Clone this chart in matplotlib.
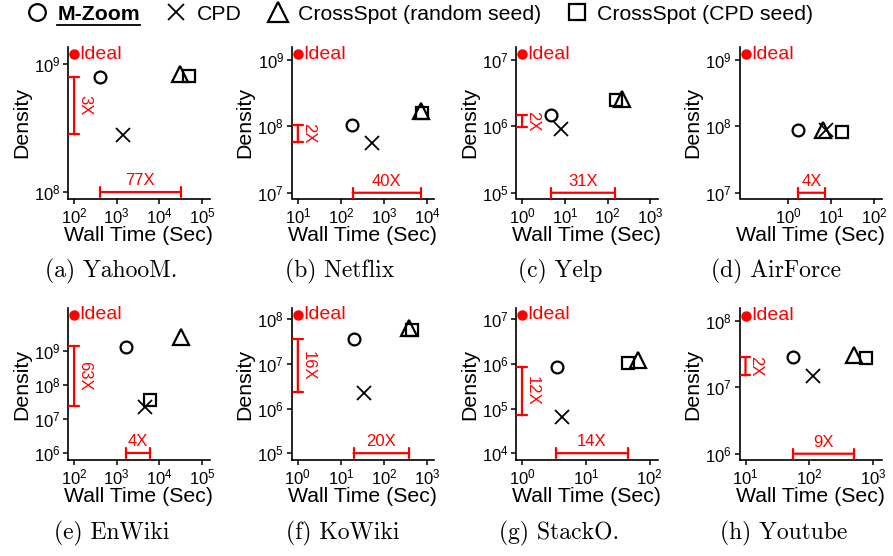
import numpy as np
import matplotlib
matplotlib.use("Agg")
import matplotlib.pyplot as plt
from matplotlib.lines import Line2D

plt.rcParams['font.family'] = ['Liberation Sans', 'DejaVu Sans']
plt.rcParams['mathtext.default'] = 'regular'

# ---- data ----
captions = ['(a) YahooM.', '(b) Netflix', '(c) Yelp', '(d) AirForce',
            '(e) EnWiki', '(f) KoWiki', '(g) StackO.', '(h) Youtube']

# wall time (sec) and density for each method
mzoom_t = [405, 180, 4.7, 1.7, 1640, 19.6, 3.5, 55]
mzoom_d = [8.0e8, 1.03e8, 1.45e6, 8.9e7, 1.34e9, 3.6e7, 8.4e5, 2.8e7]
cpd_t = [1390, 525, 8.1, 7.5, 4730, 33.6, 4.2, 114]
cpd_d = [2.8e8, 5.5e7, 9.2e5, 8.7e7, 2.2e7, 2.2e6, 6.6e4, 1.45e7]
csr_t = [31000, 7200, 211, 6.6, 32800, 373, 65.6, 500]
csr_d = [8.4e8, 1.7e8, 2.6e6, 8.7e7, 2.6e9, 6.5e7, 1.23e6, 3.06e7]
csc_t = [51000, 7500, 153, 17.7, 5970, 448, 45.8, 785]
csc_d = [8.1e8, 1.6e8, 2.45e6, 8.1e7, 3.7e7, 5.6e7, 1.07e6, 2.7e7]

ideal_t = [100, 10, 1, 0.1, 100, 1, 1, 10]
ideal_d = [1.2e9, 1.2e9, 1.2e7, 1.2e9, 1.15e10, 1.25e8, 1.25e7, 1.19e8]

# density gap brackets (None = no bracket)
vgap = [(8.0e8, 2.83e8), (1.05e8, 5.7e7), (1.45e6, 9.7e5), None,
        (1.4e9, 2.4e7), (3.6e7, 2.3e6), (8.4e5, 7.0e4), (2.8e7, 1.5e7)]
vgap_lbl = ['3X', '2X', '2X', '', '63X', '16X', '12X', '2X']
# speed gap brackets
hgap = [(407, 32000), (186, 6980), (4.7, 147), (1.66, 7.2),
        (1640, 6000), (19.6, 386), (3.4, 46), (55, 500)]
hgap_y = [1e8, 1e7, 1e5, 1e7, 1e6, 1e5, 1e4, 1e6]
hgap_lbl = ['77X', '40X', '31X', '4X', '4X', '20X', '14X', '9X']

# axis setup
xlims = [(72, 1.55e5), (7.2, 1.41e4), (0.72, 1500), (0.0716, 151),
         (72, 1.55e5), (0.72, 1425), (0.805, 135), (8.05, 1350)]
ylims = [(8.9e7, 1.37e9), (8.2e6, 1.55e9), (8.2e4, 1.55e7), (8.2e6, 1.55e9),
         (6.3e5, 1.78e10), (7.1e4, 1.76e8), (7.1e3, 1.76e7), (8.1e5, 1.53e8)]
xticks = [[1e2, 1e3, 1e4, 1e5], [1e1, 1e2, 1e3, 1e4], [1e0, 1e1, 1e2, 1e3],
          [1e0, 1e1, 1e2], [1e2, 1e3, 1e4, 1e5], [1e0, 1e1, 1e2, 1e3],
          [1e0, 1e1, 1e2], [1e1, 1e2, 1e3]]
yticks = [[1e8, 1e9], [1e7, 1e8, 1e9], [1e5, 1e6, 1e7], [1e7, 1e8, 1e9],
          [1e6, 1e7, 1e8, 1e9], [1e5, 1e6, 1e7, 1e8], [1e4, 1e5, 1e6, 1e7],
          [1e6, 1e7, 1e8]]

W, H = 893, 556
fig = plt.figure(figsize=(W / 100, H / 100), dpi=100)

col_left = [68, 291.7, 516, 739.5]
col_w = 142
row_top = [47, 308.3]
row_h = 151.5
cap_x = [111, 340, 560, 776, 112, 343, 559, 784]
cap_y = [271, 533]

RED = '#ff0000'
ms_kw = dict(linestyle='none', mfc='none', mec='black', mew=1.6, clip_on=False)

for i in range(8):
    r, c = divmod(i, 4)
    ax = fig.add_axes([col_left[c] / W, 1 - (row_top[r] + row_h) / H,
                       col_w / W, row_h / H])
    ax.set_xscale('log')
    ax.set_yscale('log')

    ax.plot(mzoom_t[i], mzoom_d[i], marker='o', ms=8.5, **ms_kw)
    ax.plot(cpd_t[i], cpd_d[i], marker='x', ms=9.5, color='black',
            **{**ms_kw, 'mew': 1.3})
    ax.plot(csr_t[i], csr_d[i], marker='^', ms=11, **ms_kw)
    ax.plot(csc_t[i], csc_d[i], marker='s', ms=9, **ms_kw)

    ax.plot(ideal_t[i], ideal_d[i], 'o', color=RED, ms=6.5, clip_on=False)
    ax.annotate('Ideal', (ideal_t[i], ideal_d[i]), xytext=(4, 0),
                textcoords='offset points', ha='left', va='center',
                color=RED, fontsize=14)

    arrow = dict(arrowstyle='|-|, widthA=0.35, widthB=0.35',
                 color=RED, lw=1.6, shrinkA=0, shrinkB=0, mutation_scale=10)
    if vgap[i] is not None:
        y1, y2 = vgap[i]
        ax.annotate('', xy=(ideal_t[i], y2), xytext=(ideal_t[i], y1),
                    arrowprops=arrow)
        ax.annotate(vgap_lbl[i], (ideal_t[i], np.sqrt(y1 * y2)), xytext=(2, 0),
                    textcoords='offset points', rotation=270, ha='left',
                    va='center', color=RED, fontsize=12)
    x1, x2 = hgap[i]
    ax.annotate('', xy=(x2, hgap_y[i]), xytext=(x1, hgap_y[i]), arrowprops=arrow)
    ax.annotate(hgap_lbl[i], (np.sqrt(x1 * x2), hgap_y[i]), xytext=(0, 3),
                textcoords='offset points', ha='center', va='bottom',
                color=RED, fontsize=12)

    ax.set_xlim(*xlims[i])
    ax.set_ylim(*ylims[i])
    ax.set_xticks(xticks[i])
    ax.set_yticks(yticks[i])
    ax.minorticks_off()
    for s in ['top', 'right']:
        ax.spines[s].set_visible(False)
    for s in ['left', 'bottom']:
        ax.spines[s].set_linewidth(1.2)
    ax.tick_params(direction='out', length=3.5, width=1.1, labelsize=12, pad=2)
    ax.set_xlabel('Wall Time (Sec)', fontsize=15.3, labelpad=0)
    ax.set_ylabel('Density', fontsize=15.3, labelpad=2)

    fig.text(cap_x[i] / W, 1 - cap_y[r] / H, captions[i], ha='center',
             va='center', fontsize=17, family='cmr10')

# legend
handles = [Line2D([], [], marker='o', ms=12, **ms_kw),
           Line2D([], [], marker='x', ms=12, color='black', **{**ms_kw, 'mew': 1.3}),
           Line2D([], [], marker='^', ms=15, **ms_kw),
           Line2D([], [], marker='s', ms=12, **ms_kw)]
labels = ['M-Zoom', 'CPD', 'CrossSpot (random seed)', 'CrossSpot (CPD seed)']
leg = fig.legend(handles, labels, loc='center', bbox_to_anchor=(420 / W, 1 - 14 / H),
                 ncol=4, frameon=False, fontsize=15.3, handletextpad=0.45,
                 columnspacing=1.2, handlelength=1.0, borderaxespad=0,
                 borderpad=0)
leg.get_texts()[0].set_fontweight('bold')

# underline M-Zoom
fig.canvas.draw()
bb = leg.get_texts()[0].get_window_extent(fig.canvas.get_renderer())
bb = bb.transformed(fig.transFigure.inverted())
fig.add_artist(Line2D([bb.x0, bb.x1], [bb.y0 - 0.002, bb.y0 - 0.002],
                      transform=fig.transFigure, color='black', lw=1.3))

fig.savefig('out.png', dpi=100)
